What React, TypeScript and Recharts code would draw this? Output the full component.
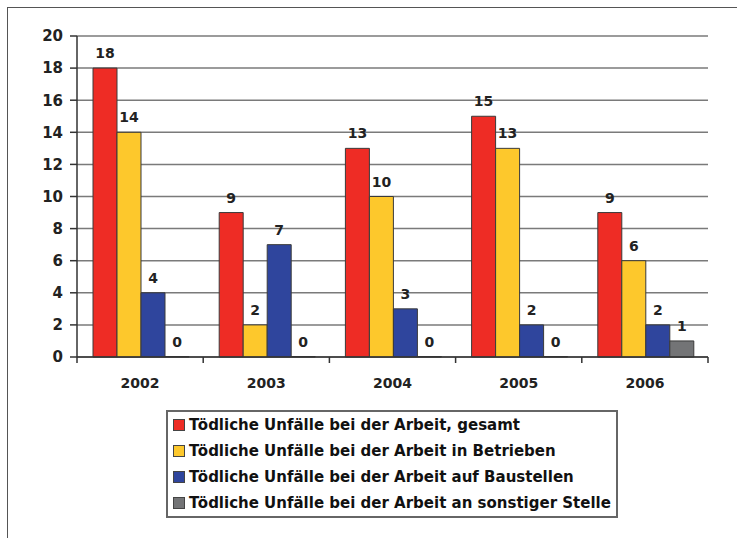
import {
  Bar,
  BarChart,
  CartesianGrid,
  LabelList,
  Legend,
  XAxis,
  YAxis,
} from "recharts";

const years = ["2002", "2003", "2004", "2005", "2006"];
const gesamt = [18, 9, 13, 15, 9];
const betrieben = [14, 2, 10, 13, 6];
const baustellen = [4, 7, 3, 2, 2];
const sonstige = [0, 0, 0, 0, 1];
const yTicks = [0, 2, 4, 6, 8, 10, 12, 14, 16, 18, 20];

const seriesNames = [
  "Tödliche Unfälle bei der Arbeit, gesamt",
  "Tödliche Unfälle bei der Arbeit in Betrieben",
  "Tödliche Unfälle bei der Arbeit auf Baustellen",
  "Tödliche Unfälle bei der Arbeit an sonstiger Stelle",
];
const colors = ["#ee2c25", "#fdc82c", "#2f459d", "#737476"];
const keys = ["gesamt", "betrieben", "baustellen", "sonstige"];

const data = years.map((year, i) => ({
  year,
  gesamt: gesamt[i],
  betrieben: betrieben[i],
  baustellen: baustellen[i],
  sonstige: sonstige[i],
}));

const W = 737;
const H = 538;
const margin = { top: 36, right: 29, bottom: 141, left: 17 };
const yAxisWidth = 60;
const plotWidth = W - margin.left - margin.right - yAxisWidth;
const band = plotWidth / years.length;
const font = "'DejaVu Sans', Verdana, sans-serif";

// x labels + boundary tick marks (the original puts ticks between categories)
function YearTick(props: any) {
  const { x, y, payload, index } = props;
  const axisY = y - 5 - 16;
  return (
    <g>
      <line x1={x - band / 2} x2={x - band / 2} y1={axisY} y2={axisY + 6} stroke="#333" strokeWidth={1.5} />
      {index === years.length - 1 && (
        <line x1={x + band / 2} x2={x + band / 2} y1={axisY} y2={axisY + 6} stroke="#333" strokeWidth={1.5} />
      )}
      <text x={x} y={y} dy="0.71em" textAnchor="middle" fontFamily={font} fontWeight="bold" fontSize={14} fill="#222">
        {payload.value}
      </text>
    </g>
  );
}

// value labels drawn by hand so zero values still show up
function ValueLabel(props: any) {
  const { x, y, width, value } = props;
  return (
    <text
      x={x + width / 2}
      y={y - 10}
      textAnchor="middle"
      fontFamily={font}
      fontWeight="bold"
      fontSize={14}
      fill="#222"
    >
      {String(value ?? 0)}
    </text>
  );
}

function LegendBox() {
  return (
    <div
      style={{
        border: "2px solid #666",
        background: "#fff",
        padding: "0 3px 0 5px",
        fontFamily: font,
        fontWeight: "bold",
        fontSize: 15,
        color: "#111",
      }}
    >
      {seriesNames.map((name, i) => (
        <div key={name} style={{ display: "flex", alignItems: "center", height: 26 }}>
          <span
            style={{
              width: 10,
              height: 10,
              background: colors[i],
              border: "1px solid #444",
              marginRight: 4,
              flex: "none",
            }}
          />
          <span style={{ whiteSpace: "nowrap" }}>{name}</span>
        </div>
      ))}
    </div>
  );
}

export default function App() {
  return (
    <div style={{ position: "absolute", left: 0, top: 0, width: W, height: H, background: "#fff" }}>
      <div
        style={{
          position: "absolute",
          left: 7,
          top: 7,
          right: 0,
          bottom: 0,
          borderLeft: "1.5px solid #555",
          borderTop: "1.5px solid #555",
        }}
      />
      <BarChart
        width={W}
        height={H}
        data={data}
        margin={margin}
        barCategoryGap={16}
        barGap={0}
        style={{ position: "absolute", left: 0, top: 0 }}
      >
        <CartesianGrid vertical={false} stroke="#7a7a7a" strokeWidth={1.5} />
        <XAxis
          dataKey="year"
          height={40}
          tickLine={false}
          tickSize={5}
          tickMargin={16}
          axisLine={{ stroke: "#333", strokeWidth: 1.5 }}
          tick={<YearTick />}
          interval={0}
        />
        <YAxis
          width={yAxisWidth}
          domain={[0, 20]}
          ticks={yTicks}
          interval={0}
          tickSize={7}
          tickMargin={7}
          axisLine={{ stroke: "#333", strokeWidth: 1.5 }}
          tickLine={{ stroke: "#333", strokeWidth: 1.5 }}
          tick={{ fontFamily: font, fontWeight: "bold", fontSize: 15, fill: "#222" }}
        />
        <YAxis
          yAxisId="right"
          orientation="right"
          width={0}
          domain={[0, 20]}
          tick={false}
          tickLine={false}
          axisLine={{ stroke: "#7a7a7a", strokeWidth: 1.5 }}
        />
        {keys.map((k, i) => (
          <Bar
            key={k}
            dataKey={k}
            name={seriesNames[i]}
            fill={colors[i]}
            stroke="#3a3a3a"
            strokeWidth={1}
            minPointSize={(v: number) => (v === 0 ? 0.5 : 0)}
            isAnimationActive={false}
          >
            <LabelList dataKey={k} content={<ValueLabel />} />
          </Bar>
        ))}
        <Legend
          layout="vertical"
          align="center"
          verticalAlign="middle"
          content={<LegendBox />}
          wrapperStyle={{ left: 166, top: 410, width: 452 }}
        />
      </BarChart>
    </div>
  );
}
